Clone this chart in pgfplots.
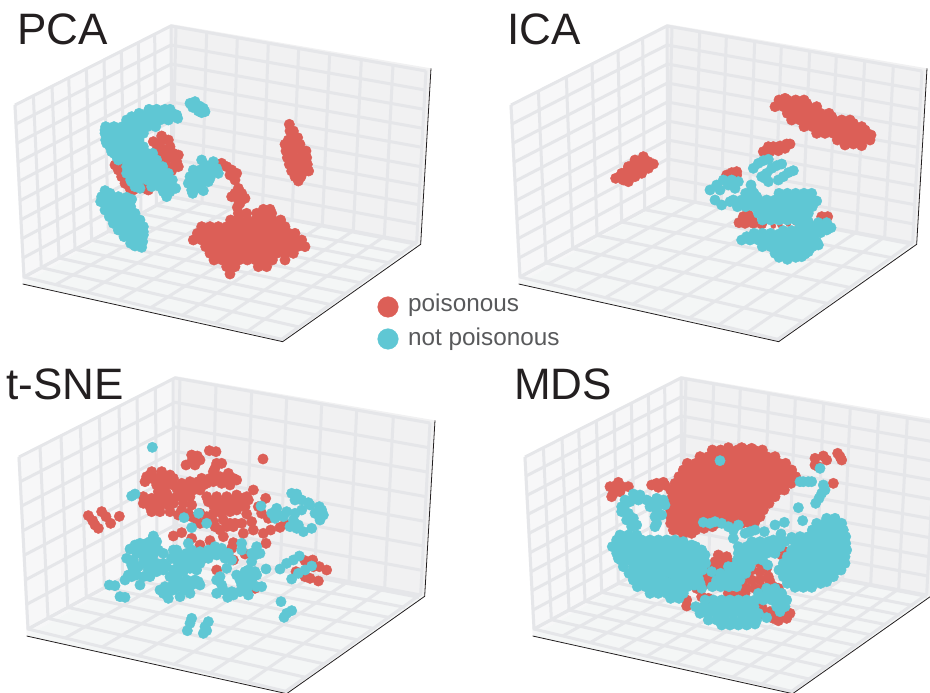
\documentclass[border=0pt]{standalone}
\usepackage{fontspec}
\setmainfont{Liberation Sans}
\usepackage{pgfplots}
\usepackage{pgfplotstable}
\pgfplotsset{compat=1.18}
\definecolor{pois}{HTML}{DC5F57}
\definecolor{npois}{HTML}{5FC7D4}
\definecolor{gridc}{HTML}{E5E6E9}
\definecolor{wallL}{HTML}{F7F7F8}
\definecolor{wallB}{HTML}{F1F1F2}
\definecolor{wallF}{HTML}{F4F6F6}
\definecolor{titlec}{HTML}{231F20}
\definecolor{legc}{HTML}{58595B}
\pgfplotstableread[row sep=\\]{x y\\
45 315\\ 513 78\\ 1278 213\\ nan nan\\
48 372\\ 513 135\\ 1275 270\\ nan nan\\
51 430\\ 514 192\\ 1272 328\\ nan nan\\
54 487\\ 514 249\\ 1269 385\\ nan nan\\
57 544\\ 514 306\\ 1266 442\\ nan nan\\
60 602\\ 515 363\\ 1262 500\\ nan nan\\
63 659\\ 515 420\\ 1259 557\\ nan nan\\
66 716\\ 515 477\\ 1256 614\\ nan nan\\
69 774\\ 516 534\\ 1253 672\\ nan nan\\
72 831\\ 516 591\\ 1250 729\\
}\zten
\pgfplotstableread[row sep=\\]{x y\\
45 315\\ 513 78\\ 1278 213\\ nan nan\\
49 389\\ 513 151\\ 1274 287\\ nan nan\\
53 462\\ 514 225\\ 1270 360\\ nan nan\\
57 536\\ 514 298\\ 1266 434\\ nan nan\\
60 610\\ 515 371\\ 1262 508\\ nan nan\\
64 684\\ 515 444\\ 1258 582\\ nan nan\\
68 757\\ 516 518\\ 1254 655\\ nan nan\\
72 831\\ 516 591\\ 1250 729\\
}\zeight
\pgfplotstableread[row sep=\\]{x y\\
45 315\\ 72 831\\ 845 1018\\ nan nan\\
100 287\\ 124 803\\ 897 981\\ nan nan\\
156 259\\ 177 774\\ 948 945\\ nan nan\\
206 233\\ 225 748\\ 993 914\\ nan nan\\
259 206\\ 275 721\\ 1040 881\\ nan nan\\
312 180\\ 325 694\\ 1085 849\\ nan nan\\
364 153\\ 375 667\\ 1129 818\\ nan nan\\
415 128\\ 423 641\\ 1171 789\\ nan nan\\
464 103\\ 469 616\\ 1210 761\\ nan nan\\
513 78\\ 516 591\\ 1250 733\\
}\lten
\pgfplotstableread[row sep=\\]{x y\\
45 315\\ 72 831\\ 845 1018\\ nan nan\\
127 273\\ 150 789\\ 922 964\\ nan nan\\
211 231\\ 230 746\\ 998 911\\ nan nan\\
288 192\\ 303 706\\ 1065 863\\ nan nan\\
366 152\\ 377 666\\ 1130 817\\ nan nan\\
440 115\\ 446 629\\ 1192 774\\ nan nan\\
513 78\\ 516 591\\ 1250 733\\
}\lseven
\pgfplotstableread[row sep=\\]{x y\\
45 315\\ 72 831\\ 845 1018\\ nan nan\\
108 283\\ 132 799\\ 905 976\\ nan nan\\
171 251\\ 191 766\\ 962 936\\ nan nan\\
229 222\\ 247 736\\ 1014 899\\ nan nan\\
286 193\\ 301 707\\ 1064 864\\ nan nan\\
345 163\\ 356 677\\ 1113 830\\ nan nan\\
399 136\\ 408 649\\ 1158 797\\ nan nan\\
454 108\\ 460 621\\ 1203 766\\ nan nan\\
507 81\\ 510 594\\ 1245 736\\
}\lnine
\pgfplotstableread[row sep=\\]{x y\\
528 80\\ 516 591\\ 72 831\\ nan nan\\
620 96\\ 606 608\\ 167 854\\ nan nan\\
712 112\\ 696 624\\ 261 877\\ nan nan\\
805 129\\ 787 641\\ 357 900\\ nan nan\\
896 145\\ 876 658\\ 452 923\\ nan nan\\
989 161\\ 967 675\\ 547 946\\ nan nan\\
1084 178\\ 1060 692\\ 645 970\\ nan nan\\
1179 195\\ 1153 709\\ 743 993\\ nan nan\\
1278 212\\ 1250 727\\ 845 1018\\
}\bnine
\pgfplotstableread[row sep=\\]{x y\\
528 80\\ 516 591\\ 72 831\\ nan nan\\
611 95\\ 597 606\\ 158 852\\ nan nan\\
691 109\\ 675 621\\ 240 872\\ nan nan\\
776 124\\ 759 636\\ 328 893\\ nan nan\\
856 138\\ 837 650\\ 410 913\\ nan nan\\
941 153\\ 920 666\\ 498 934\\ nan nan\\
1021 167\\ 998 680\\ 580 954\\ nan nan\\
1106 182\\ 1082 696\\ 668 975\\ nan nan\\
1192 197\\ 1166 711\\ 756 996\\ nan nan\\
1278 212\\ 1250 727\\ 845 1018\\
}\bten
\pgfplotstableread[row sep=\\]{x y\\
528 80\\ 516 591\\ 72 831\\ nan nan\\
636 99\\ 622 611\\ 183 858\\ nan nan\\
743 118\\ 727 630\\ 294 885\\ nan nan\\
848 136\\ 829 649\\ 402 911\\ nan nan\\
953 155\\ 932 668\\ 510 937\\ nan nan\\
1058 173\\ 1035 687\\ 618 963\\ nan nan\\
1168 193\\ 1142 707\\ 731 991\\ nan nan\\
1278 212\\ 1250 727\\ 845 1018\\
}\beight
\pgfplotsset{panel/.style={scale only axis,width=930pt,height=693pt,at={(0pt,0pt)},anchor=south west,hide axis,y dir=reverse,clip=true,unbounded coords=jump},
 pr/.style={only marks,mark=*,mark size=5.2pt,color=pois,mark options={draw=none,fill=pois}},
 pc/.style={only marks,mark=*,mark size=5.2pt,color=npois,mark options={draw=none,fill=npois}}}
% wire frame of one panel: xmin, ymin, left-wall lines, back-wall lines, height lines
\newcommand{\wireframe}[5]{%
\begin{axis}[panel,xmin=#1,xmax={#1+2790},ymin=#2,ymax={#2+2079}]
\addplot[fill=wallL,draw=none] coordinates {(40,315)(513,72)(516,595)(68,852)} -- cycle;
\addplot[fill=wallB,draw=none] coordinates {(513,72)(1293,205)(1262,733)(516,595)} -- cycle;
\addplot[fill=wallF,draw=none] coordinates {(68,852)(516,595)(1262,733)(848,1025)} -- cycle;
\addplot[gridc,line width=3pt,no markers] table {#3};
\addplot[gridc,line width=3pt,no markers] table {#4};
\addplot[gridc,line width=3pt,no markers] table {#5};
\addplot[color=titlec,line width=0.8pt,no markers] coordinates {(68,852)(848,1025)(1262,733)(1293,205)};
\end{axis}}
\begin{document}
\begin{tikzpicture}
\useasboundingbox (0pt,0pt) rectangle (930pt,693pt);
\wireframe{0}{0}{\lten}{\bnine}{\zten}
\wireframe{-1488}{0}{\lseven}{\bten}{\zten}
\wireframe{-12}{-1056}{\lnine}{\beight}{\zeight}
\wireframe{-1530}{-1056}{\lten}{\bten}{\zten}
% PCA, coordinates in the frame of that panel
\begin{axis}[panel,xmin=0,xmax=2790,ymin=0,ymax=2079]
\addplot[pr] coordinates {
(868,373)(870,393)(880,393)(875,413)(893,413)(855,433)(875,433)(900,433)(858,453)(878,453)(905,453)(918,453)(862,473)(882,473)(902,473)(920,473)(868,493)(888,493)(908,493)(922,493)(875,513)(895,513)(915,513)(926,513)(885,530)(903,530)(895,543)(865,420)(885,425)(870,445)(890,445)(912,463)
(790,628)(810,628)(715,640)(740,640)(770,640)(795,640)(815,640)
(692,660)(717,660)(742,660)(767,660)(792,660)(817,660)(842,660)
(605,680)(630,680)(655,680)(680,680)(705,680)(730,680)(755,680)(780,680)(805,680)(830,680)(855,680)
(592,700)(617,700)(642,700)(667,700)(692,700)(717,700)(742,700)(767,700)(792,700)(817,700)(842,700)(867,700)(885,700)
(580,720)(605,720)(630,720)(655,720)(680,720)(705,720)(730,720)(755,720)(780,720)(805,720)(830,720)(855,720)(880,720)(905,720)
(617,740)(642,740)(667,740)(692,740)(717,740)(742,740)(767,740)(792,740)(817,740)(842,740)(867,740)(892,740)(915,740)
(630,760)(655,760)(680,760)(705,760)(730,760)(755,760)(780,760)(805,760)(830,760)(855,760)(880,760)
(642,780)(667,780)(692,780)(717,780)(742,780)(767,780)(792,780)(817,780)(855,780)
(680,800)(705,800)(775,800)(800,800)(690,822)
(715,565)(705,580)(695,590)(735,595)(715,600)(712,622)(665,490)(680,500)(695,510)(710,520)(690,525)(705,540)(725,580)(720,610)
(485,408)(505,420)(460,425)(480,430)(510,440)(470,450)(495,450)(520,460)(535,465)(480,470)(505,475)(530,485)(495,490)(520,500)(535,500)(515,512)
(345,495)(355,510)(365,530)(375,550)(390,565)(400,570)(360,490)(435,565)(430,560)(445,570)
};
\addplot[pc] coordinates {
(570,310)(585,305)(598,318)(610,325)(578,322)(595,333)(615,335)(605,338)
(447,328)(470,328)(495,328)(510,328)(417,340)(442,340)(467,340)(492,340)(517,340)(530,345)
(380,360)(405,360)(430,360)(455,360)(480,360)(505,360)(533,355)(440,350)(465,350)(490,352)(515,350)(395,350)
(317,380)(342,380)(367,380)(392,380)(417,380)(442,380)(467,380)(340,392)(365,392)(390,392)(415,392)(315,390)(320,430)(335,455)(350,470)
(315,400)(330,400)(355,400)(380,400)(405,400)(430,400)
(317,420)(342,420)(367,420)(392,420)(417,420)
(330,440)(355,440)(380,440)(405,440)(430,440)
(342,460)(367,460)(392,460)(417,460)(442,460)(458,460)(420,440)(430,470)(400,470)(375,470)
(355,480)(380,480)(405,480)(430,480)(455,480)(470,480)
(380,500)(392,500)(417,500)(442,500)(467,500)(488,500)
(380,520)(405,520)(430,520)(455,520)(480,520)(505,520)(390,520)(395,545)(420,565)(480,545)(510,555)
(392,540)(417,540)(442,540)(467,540)(492,540)(517,540)
(405,560)(455,560)(480,560)(505,560)(527,565)(490,575)(510,575)(500,590)
(605,480)(615,495)(640,485)(650,505)(655,520)(580,510)(600,510)(625,510)(640,515)(570,530)(590,530)(610,530)(630,535)(565,550)(585,550)(605,552)(625,545)(575,570)(600,565)(578,580)(610,572)
(315,572)(330,580)(305,590)(330,595)(355,590)(380,592)(395,598)(302,605)(325,612)(350,610)(372,608)
(315,630)(340,630)(365,630)(385,632)(328,650)(352,650)(377,650)(400,650)
(340,670)(365,670)(390,670)(415,670)(355,690)(380,690)(405,690)(425,690)
(372,710)(397,710)(420,710)(430,705)(392,730)(415,730)(428,725)(425,742)(405,738)
(345,620)(370,620)(392,620)(335,640)(360,640)(385,640)(405,640)(350,660)(375,660)(400,660)(420,660)(365,680)(390,680)(415,680)(430,680)(382,700)(407,700)(430,695)(400,720)(425,715)
};
\end{axis}
% ICA
\begin{axis}[panel,xmin=-1395,xmax=1395,ymin=0,ymax=2079]
\addplot[pr] coordinates {
(942,300)(967,300)(992,300)(1017,300)(960,295)
(930,320)(955,320)(980,320)(1005,320)(1030,320)(1055,320)
(967,340)(992,340)(1017,340)(1042,340)(1067,340)(1092,340)
(980,360)(1005,360)(1030,360)(1055,360)(1080,360)(1105,360)(1130,360)(1155,360)
(1017,380)(1042,380)(1067,380)(1092,380)(1117,380)(1142,380)(1167,380)(1190,380)
(1055,400)(1080,400)(1105,400)(1130,400)(1155,400)(1180,400)(1205,400)(1218,405)
(1117,420)(1142,420)(1167,420)(1192,420)(1215,420)(1140,435)(1165,432)(1190,437)
(950,310)(975,310)(1000,310)(1025,310)(1045,330)(1075,350)(1100,350)(1040,370)(1065,370)(1090,370)(1115,370)(1140,370)(1165,370)(1080,390)(1105,390)(1130,390)(1155,390)(1180,390)(1200,390)(1140,410)(1165,410)(1190,410)(1210,410)(1160,425)
(452,535)(470,520)(490,500)(510,480)(535,470)(550,485)(565,492)(475,540)(495,525)(515,505)(535,500)(490,545)(510,530)(530,520)(550,505)(465,530)(485,515)(505,495)(525,485)(545,495)(500,510)(520,495)(480,530)
(895,455)(910,440)(925,440)(945,438)(965,432)(975,432)(915,455)(940,452)(960,445)
(785,525)(800,518)(815,515)(815,525)
(822,668)(835,650)(850,645)(840,670)(865,670)(890,672)(860,655)(1070,650)(1088,650)
};
\addplot[pr,mark size=2.5pt] coordinates {(925,678)(945,676)(970,672)(990,668)(1010,664)(1030,656)};
\addplot[pc] coordinates {
(865,505)(880,490)(895,482)(910,478)
(890,530)(905,520)(920,505)(935,497)(950,492)(910,545)(900,535)
(940,540)(955,530)(970,518)(985,512)
(735,570)(755,555)(775,540)(800,540)(820,545)(790,555)(765,570)(750,600)(810,565)(770,615)(795,605)
(858,555)(842,580)(867,580)(942,580)(967,580)(992,580)(1017,580)(1040,580)
(805,600)(830,600)(855,600)(880,600)(905,600)(930,600)(955,600)(980,600)(1005,600)(1030,600)(1055,603)
(817,620)(842,620)(867,620)(892,620)(917,620)(942,620)(967,620)(992,620)(1017,620)(1042,620)
(880,640)(905,640)(930,640)(955,640)(980,640)(1005,640)(1030,640)
(892,660)(917,660)(942,660)(967,660)(992,660)(1017,655)
(1030,665)(1060,668)(1085,668)(1005,680)(1030,680)(1055,680)(1080,680)(1098,683)
(955,692)(980,692)
(867,700)(892,700)(917,700)(942,702)(967,702)(992,702)(1017,700)(1042,700)(1067,698)
(830,720)(855,720)(880,720)(905,720)(930,720)(955,720)(980,720)(1005,720)(1030,720)(1055,725)
(892,740)(917,740)(942,740)(967,740)(992,740)(1017,740)(1042,740)(1060,735)
(930,760)(955,760)(980,760)(1005,760)(1030,755)(942,772)(967,778)(992,772)
(860,570)(875,590)(850,590)(825,610)(890,610)(915,610)(940,610)(965,610)(990,610)(1015,610)(1040,610)(900,630)(925,630)(950,630)(975,630)(1000,630)(1025,630)(905,650)(930,650)(955,650)(980,650)(1005,650)
(845,710)(870,710)(895,710)(920,710)(945,710)(970,710)(995,710)(1020,710)(1045,710)(905,730)(930,730)(955,730)(980,730)(1005,730)(1030,730)(1050,730)(940,750)(965,750)(990,750)(1015,750)(1035,745)(960,770)(985,765)(1010,770)(1020,762)(1040,690)(1065,690)(1085,690)(1015,695)
};
\end{axis}
% t-SNE
\begin{axis}[panel,xmin=0,xmax=2790,ymin=-1050,ymax=1029]
\addplot[pr] coordinates {
(265,497)(278,512)(295,535)(285,525)(305,485)(318,500)(332,520)(358,499)
(628,302)(648,305)(575,315)(592,318)(600,330)(575,335)(558,345)(585,345)(650,340)(665,340)(645,355)(640,365)(789,327)
(455,365)(485,365)(510,375)(440,380)(470,385)(495,385)(520,385)(435,395)(570,395)(605,385)(630,385)(660,380)(685,370)(675,385)(700,385)(710,390)
(470,405)(495,410)(520,405)(560,410)(585,405)(610,405)(640,395)(665,400)(690,405)(475,425)(500,430)(530,415)(555,425)(580,420)(600,420)
(430,440)(455,445)(480,445)(510,445)(570,440)(620,440)(650,440)(680,440)(710,435)(740,440)(760,420)(797,445)(745,450)
(430,460)(450,470)(475,470)(505,465)(520,460)(550,460)(575,465)(640,465)(660,465)(685,465)(710,465)(735,470)(775,470)(455,485)(480,485)(510,485)
(545,480)(565,490)(535,495)(640,490)(665,490)(690,485)(740,492)(785,490)(805,505)
(590,510)(600,520)(640,515)(705,520)(680,530)(660,540)(700,530)(755,515)(760,540)(645,530)(670,560)(730,550)(790,550)(812,540)(840,532)(855,522)
(520,558)(545,548)(575,565)(600,585)(630,572)(700,578)(695,595)(798,580)(735,612)(615,622)(650,660)(700,630)(765,715)
(915,632)(938,630)(958,650)(980,660)(888,665)(915,680)(930,685)(955,693)(940,650)
(455,385)(480,400)(505,395)(545,400)(595,395)(620,400)(650,385)(690,390)(440,455)(465,455)(490,460)(530,440)(545,440)(625,455)(650,455)(675,455)(700,450)(720,455)(670,480)(655,480)(710,480)(725,445)(600,490)(575,500)(620,500)(670,510)(690,520)(725,520)
};
\addplot[pc] coordinates {
(457,292)(405,432)(395,438)(552,503)(596,490)(620,520)(575,533)(783,468)
(875,430)(890,432)(885,450)(905,450)(925,458)(958,470)(830,475)(815,490)(835,495)(860,485)(885,490)(905,480)(945,490)(970,495)(960,510)(880,510)(895,525)(870,530)(890,535)(910,545)(935,535)(930,465)(850,500)(825,505)(965,480)
(460,558)(470,575)(420,580)(405,585)(390,597)(430,595)(455,590)(475,600)(490,610)(380,625)(400,630)(440,610)(460,615)(430,640)(415,650)(445,660)(470,650)(400,660)(385,675)(375,690)(395,680)(430,680)(450,680)(420,705)(470,640)(490,640)
(520,600)(515,625)(500,650)(520,660)(510,680)(540,615)(565,580)(575,600)(600,605)(625,600)(645,590)(665,595)(685,610)(695,630)(680,655)(650,615)(625,625)(600,640)(580,625)(555,630)(545,650)(570,655)(550,665)(590,660)(535,690)(560,690)(585,690)(600,705)(575,705)(545,710)(520,700)(495,710)(480,720)(490,730)(505,745)(540,740)(570,730)(555,720)(650,690)(665,705)(650,730)(683,742)(695,725)(720,725)(745,735)
(725,580)(725,600)(770,590)(755,610)(765,615)(780,610)(755,635)(798,657)(710,675)(735,665)(765,665)(735,690)(755,690)(770,710)(785,710)(725,705)(840,657)(860,640)(880,630)(898,618)(875,687)(895,670)(915,660)(935,648)
(328,705)(345,707)(360,740)(375,742)(843,755)(852,802)(860,790)(875,782)
(575,805)(570,820)(562,842)(625,815)(615,830)(610,850)(620,842)
(420,600)(440,580)(450,575)(460,600)(410,610)(445,625)(430,620)(455,640)(395,645)(410,675)(470,665)(490,660)(535,640)(530,600)(560,610)(590,620)(610,615)(640,605)(660,610)(675,625)(530,665)(565,640)(585,645)(535,710)(565,700)(520,720)(500,725)(595,695)(660,680)(670,720)(700,735)(735,720)(750,680)(745,660)(770,675)(720,690)(745,710)
};
\end{axis}
% MDS
\begin{axis}[panel,xmin=-1395,xmax=1395,ymin=-1050,ymax=1029]
\addplot[pr] coordinates {
(790,293)(830,293)(860,295)(742,300)(767,300)(792,300)(817,300)(842,300)(867,300)(892,300)
(705,320)(730,320)(755,320)(780,320)(805,320)(830,320)(855,320)(880,320)(905,320)(930,320)
(667,340)(692,340)(717,340)(742,340)(767,340)(792,340)(817,340)(842,340)(867,340)(892,340)(917,340)(942,340)(962,340)
(655,360)(680,360)(705,360)(730,360)(755,360)(780,360)(805,360)(830,360)(855,360)(880,360)(905,360)(930,360)(955,360)(980,360)
(642,380)(667,380)(692,380)(717,380)(742,380)(767,380)(792,380)(817,380)(842,380)(867,380)(892,380)(917,380)(942,380)(967,380)(992,380)
(630,400)(655,400)(680,400)(705,400)(730,400)(755,400)(780,400)(805,400)(830,400)(855,400)(880,400)(905,400)(930,400)(955,400)(978,400)
(617,420)(642,420)(667,420)(692,420)(717,420)(742,420)(767,420)(792,420)(817,420)(842,420)(867,420)(892,420)(917,420)(942,420)(958,420)
(622,440)(630,440)(655,440)(680,440)(705,440)(730,440)(755,440)(780,440)(805,440)(830,440)(855,440)(880,440)(905,440)(930,440)
(617,460)(642,460)(667,460)(692,460)(717,460)(742,460)(767,460)(792,460)(817,460)(842,460)(867,460)(892,460)(912,460)
(617,480)(630,480)(655,480)(680,480)(705,480)(730,480)(755,480)(780,480)(805,480)(830,480)(855,480)(880,480)(895,480)
(617,500)(642,500)(667,500)(692,500)(717,500)(742,500)(767,500)(792,500)(817,500)(842,500)(867,500)(885,500)
(617,520)(630,520)(655,520)(680,520)(705,520)(730,520)(755,520)(780,520)(805,520)(830,520)(855,520)(870,515)
(625,540)(642,540)(667,540)(692,540)(717,535)(742,530)(655,552)(680,550)
(435,410)(445,410)(460,397)(470,410)(490,410)(445,430)(465,425)(440,440)(560,405)(575,400)(595,397)(600,405)(580,412)
(1050,325)(1075,318)(1085,330)(1050,345)(1060,350)(1118,310)(1125,320)(1130,330)(1105,400)
(760,615)(785,620)(750,635)(775,640)(800,640)(730,655)(755,660)(780,655)(720,675)(745,680)(700,695)(725,700)(695,715)
(885,640)(905,655)(860,660)(885,665)(910,680)(835,690)(860,690)(885,690)(915,695)(820,710)(845,715)(870,715)(895,715)(925,710)(940,715)(790,730)(815,735)(840,730)(710,740)(730,745)(665,750)(665,768)(890,770)(915,785)(890,790)(935,800)(960,790)(975,790)(965,805)(940,812)(925,805)(905,790)(950,615)(960,605)(617,690)
};
\addplot[pc] coordinates {
(465,555)(490,555)(515,555)
(455,570)(480,570)(505,570)(530,570)(555,570)(580,570)(605,570)(630,570)(655,575)(680,585)
(442,590)(467,590)(492,590)(517,590)(542,590)(567,590)(592,590)(617,590)(642,590)(667,590)(692,590)(710,600)
(455,610)(480,610)(505,610)(530,610)(555,610)(580,610)(605,610)(630,610)(655,610)(680,610)(705,610)(720,615)
(460,625)(467,630)(492,630)(517,630)(542,630)(567,630)(592,630)(617,630)(642,630)(667,630)(692,630)(717,630)
(475,650)(505,650)(530,650)(555,650)(580,650)(605,650)(630,650)(655,650)(680,650)(705,650)(722,640)
(492,670)(517,670)(542,670)(567,670)(592,670)(617,670)(642,670)(667,670)(692,670)(712,660)
(505,690)(530,690)(555,690)(580,690)(605,695)(630,690)(655,690)(680,690)(700,685)
(517,710)(542,710)(567,710)(592,710)(617,710)(642,710)(667,710)(685,705)
(555,730)(580,730)(605,730)(630,730)(655,730)(617,745)(642,745)
(505,432)(525,435)(545,450)(565,455)(585,460)(600,465)(555,470)(575,480)(590,495)(570,500)(575,520)(570,530)(480,465)(470,485)(490,490)(485,510)(505,505)(515,525)(500,530)(470,470)(495,455)(480,450)(520,450)(575,445)(595,450)
(1085,505)(1110,505)(1055,520)(1080,520)(1105,520)(1130,520)
(1042,540)(1067,540)(1092,540)(1117,540)(1135,540)
(1005,560)(1030,560)(1055,560)(1080,560)(1105,560)(1130,560)(1142,560)
(992,580)(1017,580)(1042,580)(1067,580)(1092,580)(1117,580)(1142,580)
(980,600)(1005,600)(1030,600)(1055,600)(1080,600)(1105,600)(1130,600)(1145,600)
(967,620)(992,620)(1017,620)(1042,620)(1067,620)(1092,620)(1117,620)(1140,620)
(955,640)(980,640)(1005,640)(1030,640)(1055,640)(1080,640)(1105,640)(1130,640)(1140,640)
(942,660)(967,660)(992,660)(1017,660)(1042,660)(1067,660)(1092,660)(1117,660)(1128,660)
(955,680)(980,680)(1005,680)(1030,680)(1055,680)(1080,680)(1105,680)
(967,700)(992,700)(1017,700)(1042,700)(1067,700)(1085,695)(990,712)(1015,712)(1040,712)
(860,575)(885,575)(910,575)(935,575)(960,575)(985,570)(820,590)(845,590)(870,590)(895,590)(920,590)(945,590)
(820,610)(830,610)(855,610)(880,610)(905,610)(930,610)(817,630)(842,630)(867,630)(892,630)
(790,650)(805,650)(830,650)(855,650)(767,670)(792,670)(817,670)(842,670)(755,690)(780,690)(805,690)(825,690)(742,710)(767,710)(792,710)(815,710)
(740,665)(908,645)(705,700)(710,715)(690,705)
(880,730)(905,730)(930,730)(950,730)(905,715)(930,715)
(720,750)(745,750)(770,750)(795,750)(820,750)(845,750)(870,750)(895,750)(920,750)(945,750)(965,750)
(692,770)(717,770)(742,770)(767,770)(792,770)(817,770)(842,770)(867,770)(935,770)(960,770)
(705,790)(730,790)(755,790)(780,790)(805,790)(830,790)(855,790)(880,790)(945,785)
(730,810)(755,810)(780,810)(805,810)(830,810)(855,810)(875,810)(905,803)
(770,825)(795,825)(820,825)(845,825)(870,822)
(715,517)(735,520)(750,515)(770,520)(790,530)(805,540)(820,525)(805,565)(840,550)(855,545)(870,540)(898,545)(930,525)(958,517)(948,552)(925,570)(980,562)(1000,473)(1013,512)(1015,395)(1005,395)(1030,395)(1040,395)(1075,405)(1080,420)(1070,430)(1062,445)(1052,460)(1065,355)(765,332)
};
\end{axis}
% titles and legend, in pixels of the picture
\begin{axis}[panel,xmin=0,xmax=930,ymin=0,ymax=693]
\addplot[only marks,mark=*,mark size=10.3pt,color=pois,mark options={draw=none,fill=pois}] coordinates {(388,307)};
\addplot[only marks,mark=*,mark size=10.3pt,color=npois,mark options={draw=none,fill=npois}] coordinates {(388,339)};
\node[anchor=base west,inner sep=0pt,text=legc,font=\fontsize{24.3}{24.3}\selectfont] at (axis cs:408,312) {poisonous};
\node[anchor=base west,inner sep=0pt,text=legc,font=\fontsize{24.3}{24.3}\selectfont] at (axis cs:408,346) {not poisonous};
\node[anchor=base west,inner sep=0pt,text=titlec,font=\fontsize{44}{44}\selectfont] at (axis cs:17,45) {PCA};
\node[anchor=base west,inner sep=0pt,text=titlec,font=\fontsize{44}{44}\selectfont] at (axis cs:507,45) {ICA};
\node[anchor=base west,inner sep=0pt,text=titlec,font=\fontsize{44}{44}\selectfont] at (axis cs:6,400) {t-SNE};
\node[anchor=base west,inner sep=0pt,text=titlec,font=\fontsize{44}{44}\selectfont] at (axis cs:514,400) {MDS};
\end{axis}
\end{tikzpicture}
\end{document}
